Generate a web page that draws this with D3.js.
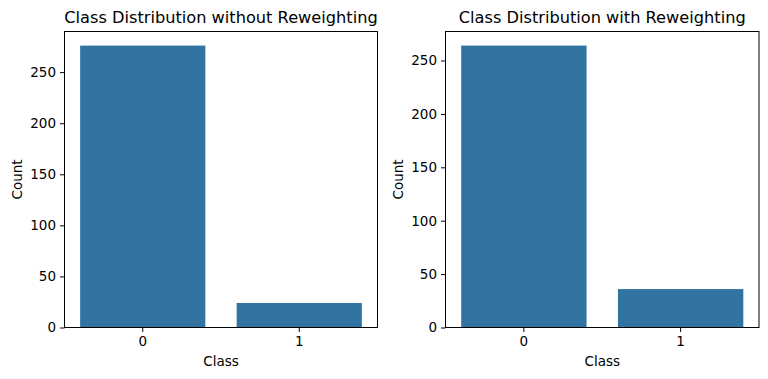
<!DOCTYPE html>
<html>
<head>
<meta charset="utf-8">
<script src="https://cdn.jsdelivr.net/npm/d3@7"></script>
<style>
  body { margin: 0; background: #fff; }
  text { font-family: "DejaVu Sans", sans-serif; fill: #000; }
</style>
</head>
<body>
<div class="graph"></div>
<script>
// data
let classes = ["0", "1"];
let countsWithout = [276, 24];
let countsWith = [264, 36];
let yTicks = [0, 50, 100, 150, 200, 250];
let titles = ["Class Distribution without Reweighting", "Class Distribution with Reweighting"];

let w = 768;
let h = 379;
let barColor = "#3274a1";

let svg = d3
  .select(".graph")
  .append("svg")
  .attr("width", w)
  .attr("height", h);

function drawPanel(left, right, counts, title) {
  let top = 31.5;
  let bottom = 327.5;

  let xScale = d3
    .scaleBand()
    .domain(classes)
    .range([left, right])
    .paddingInner(0.2)
    .paddingOuter(0.1);

  let yScale = d3
    .scaleLinear()
    .domain([0, d3.max(counts) * 1.05])
    .range([bottom, top]);

  let g = svg.append("g");

  g.selectAll("rect.bar")
    .data(counts)
    .enter()
    .append("rect")
    .attr("class", "bar")
    .attr("x", (d, i) => xScale(classes[i]))
    .attr("y", (d) => yScale(d))
    .attr("width", xScale.bandwidth())
    .attr("height", (d) => yScale(0) - yScale(d))
    .attr("fill", barColor);

  let yAxis = d3
    .axisLeft(yScale)
    .tickValues(yTicks)
    .tickSize(4.5)
    .tickPadding(4)
    .tickFormat(d3.format("d"));
  let yg = g.append("g").attr("transform", "translate(" + left + ",0)").call(yAxis);
  yg.select(".domain").remove();

  let xAxis = d3.axisBottom(xScale).tickSize(4.5).tickPadding(4);
  let xg = g.append("g").attr("transform", "translate(0," + bottom + ")").call(xAxis);
  xg.select(".domain").remove();

  g.selectAll(".tick text")
    .style("font-size", "13.5px")
    .style("font-family", "DejaVu Sans, sans-serif")
    .attr("fill", "#000");
  g.selectAll(".tick line").attr("stroke", "#000").attr("stroke-width", 1);

  // frame
  g.append("rect")
    .attr("x", left)
    .attr("y", top)
    .attr("width", right - left)
    .attr("height", bottom - top)
    .attr("fill", "none")
    .attr("stroke", "#000")
    .attr("stroke-width", 1);

  g.append("text")
    .attr("x", (left + right) / 2)
    .attr("y", 23)
    .attr("text-anchor", "middle")
    .style("font-size", "16.2px")
    .text(title);

  g.append("text")
    .attr("x", (left + right) / 2)
    .attr("y", 366)
    .attr("text-anchor", "middle")
    .style("font-size", "13.5px")
    .text("Class");

  g.append("text")
    .attr("transform", "translate(" + (left - 43) + "," + (top + bottom) / 2 + ") rotate(-90)")
    .attr("text-anchor", "middle")
    .style("font-size", "13.5px")
    .text("Count");
}

drawPanel(64.5, 377.5, countsWithout, titles[0]);
drawPanel(445.5, 759, countsWith, titles[1]);
</script>
</body>
</html>
